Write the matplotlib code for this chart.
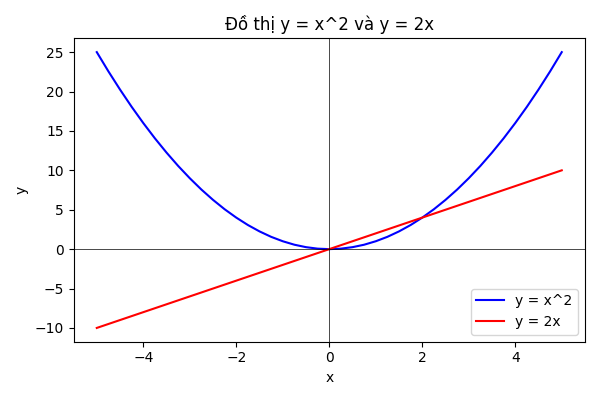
import matplotlib
matplotlib.use("Agg")
import matplotlib.pyplot as plt

# values
x_par = [-5.0, -4.75, -4.5, -4.25, -4.0, -3.75, -3.5, -3.25, -3.0, -2.75,
         -2.5, -2.25, -2.0, -1.75, -1.5, -1.25, -1.0, -0.75, -0.5, -0.25,
         0.0, 0.25, 0.5, 0.75, 1.0, 1.25, 1.5, 1.75, 2.0, 2.25,
         2.5, 2.75, 3.0, 3.25, 3.5, 3.75, 4.0, 4.25, 4.5, 4.75, 5.0]
y_par = [25.0, 22.56, 20.25, 18.06, 16.0, 14.06, 12.25, 10.56, 9.0, 7.56,
         6.25, 5.06, 4.0, 3.06, 2.25, 1.56, 1.0, 0.56, 0.25, 0.06,
         0.0, 0.06, 0.25, 0.56, 1.0, 1.56, 2.25, 3.06, 4.0, 5.06,
         6.25, 7.56, 9.0, 10.56, 12.25, 14.06, 16.0, 18.06, 20.25, 22.56, 25.0]

x_line = [-5, -4, -3, -2, -1, 0, 1, 2, 3, 4, 5]
y_line = [-10, -8, -6, -4, -2, 0, 2, 4, 6, 8, 10]

fig, ax = plt.subplots(figsize=(6, 4), dpi=100)
ax.plot(x_par, y_par, color="blue", label="y = x^2")
ax.plot(x_line, y_line, color="red", label="y = 2x")
ax.axhline(0, color="black", linewidth=0.5)
ax.axvline(0, color="black", linewidth=0.5)
ax.set_title("Đồ thị y = x^2 và y = 2x")
ax.set_xlabel("x")
ax.set_ylabel("y")
ax.legend(loc="lower right")
fig.tight_layout()
fig.savefig("out.png", dpi=100)
